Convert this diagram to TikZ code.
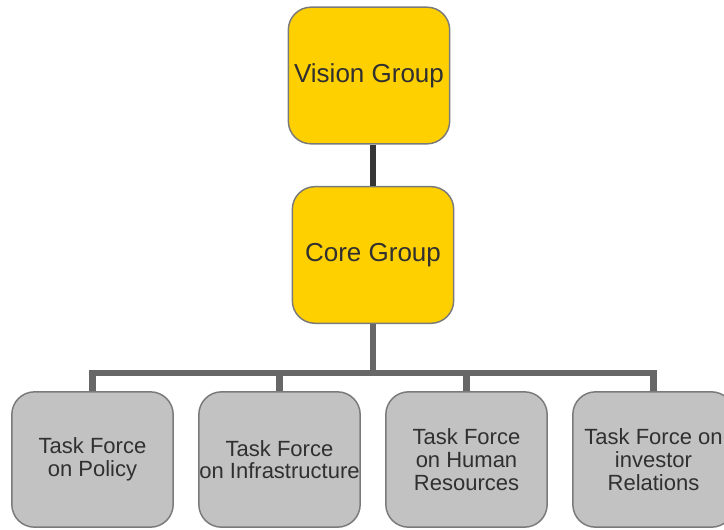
\documentclass[tikz,border=0pt]{standalone}
\usepackage{fontspec}
\setmainfont{Liberation Sans}
\usepackage{tikz}
\usetikzlibrary{positioning}
\definecolor{groupyellow}{HTML}{FFD000}
\definecolor{taskgray}{HTML}{C2C2C2}
\definecolor{bordergray}{HTML}{7A7A7A}
\definecolor{textgray}{HTML}{303030}
\definecolor{linkdark}{HTML}{363636}
\definecolor{busgray}{HTML}{676767}
\tikzstyle{group} = [rectangle, draw=bordergray, line width=1.1pt,
    fill=groupyellow, text=textgray, rounded corners=17pt,
    minimum width=121pt, minimum height=102.5pt, inner sep=0pt,
    font=\fontsize{19.5}{23}\selectfont]
\tikzstyle{task} = [group, fill=taskgray, align=center,
    minimum height=101.5pt, font=\fontsize{16.5}{17}\selectfont]
\tikzstyle{link} = [draw, line width=5pt, linkdark]
\tikzstyle{bus} = [draw, line width=5pt, busgray]

\begin{document}
\begin{tikzpicture}[x=0.75pt, y=-0.75pt]
  \clip (0,0) rectangle (724,529);
  \useasboundingbox (0,0) rectangle (724,529);

  % Place nodes
  \node [group] (vision) at (369,75.5) {Vision Group};
  \node [group, below of=vision, node distance=134.6pt, xshift=3pt] (core) {Core Group};
  \node [task] (policy) at (92.5,459.5) {Task Force\\on Policy};
  \node [task, right of=policy, node distance=140.25pt] (infra) {Task Force\\on Infrastructure};
  \node [task, right of=infra, node distance=140.25pt] (human) {Task Force\\on Human\\Resources};
  \node [task, right of=human, node distance=140.25pt] (investor) {Task Force on\\investor\\Relations};
  \coordinate (split) at (373,373);

  % Draw edges
  \path [link] (core.north) -- (core.north |- vision.south);
  \path [bus] (core.south) -- (split);
  \path [bus] (policy.north) |- (split) -| (investor.north);
  \path [bus] (infra.north) -- (infra.north |- split);
  \path [bus] (human.north) -- (human.north |- split);
\end{tikzpicture}
\end{document}
